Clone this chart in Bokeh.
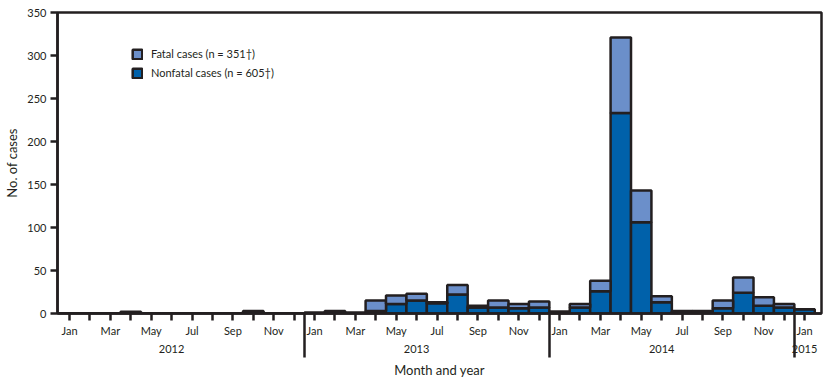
from bokeh.plotting import figure
from bokeh.models import FixedTicker, Range1d, ColumnDataSource, Legend, LegendItem
from bokeh.embed import file_html
from bokeh.resources import INLINE

# ---- data ----
month_names = ["Jan", "Feb", "Mar", "Apr", "May", "Jun",
               "Jul", "Aug", "Sep", "Oct", "Nov", "Dec"]
years = [2012] * 12 + [2013] * 12 + [2014] * 12 + [2015]
months = [month_names[i % 12] for i in range(len(years))]

nonfatal = [0, 0, 0, 0, 0, 0, 0, 0, 0, 2, 0, 0,
            1, 1, 1, 3, 11, 15, 12, 22, 7, 7, 6, 7,
            2, 7, 26, 233, 106, 13, 2, 2, 6, 24, 9, 7,
            5]
fatal = [0, 0, 0, 2, 0, 0, 0, 0, 0, 1, 0, 0,
         0, 2, 0, 12, 10, 8, 1, 11, 2, 8, 5, 7,
         0, 4, 12, 88, 37, 7, 1, 1, 9, 18, 10, 4,
         0]
y_ticks = [0, 50, 100, 150, 200, 250, 300, 350]
legend_labels = ["Fatal cases (n = 351\u2020)", "Nonfatal cases (n = 605\u2020)"]
x_title = "Month and year"
y_title = "No. of cases"

DARK = "#0061aa"
LIGHT = "#6b8fca"
INK = "#231f20"
FONT = "Lato"

x = list(range(len(years)))
src = ColumnDataSource(dict(x=x, nonfatal=nonfatal, fatal=fatal))

p = figure(width=833, height=380, output_backend="svg", toolbar_location=None,
           x_range=Range1d(-0.59, 36.83), y_range=Range1d(0, 350),
           min_border_left=57, min_border_right=12, min_border_top=12,
           min_border_bottom=67)

rs = p.vbar_stack(["nonfatal", "fatal"], x="x", width=1.0, source=src,
                  fill_color=[DARK, LIGHT], line_color=INK, line_width=2.5)

# ---- x axis: month ticks, labels every other month, year labels/separators ----
overrides = {}
for i in x:
    m = i % 12
    txt = month_names[m] if m % 2 == 0 else ""
    if m == 5:
        txt = " \n" + str(years[i])
    if i == len(x) - 1:
        txt = month_names[m] + "\n" + str(years[i])
    overrides[i] = txt
separators = [i - 0.5 for i in x if i > 0 and years[i] != years[i - 1]]

xa = p.xaxis[0]
xa.ticker = FixedTicker(ticks=x, minor_ticks=separators)
xa.major_label_overrides = overrides
xa.major_tick_in = 0
xa.major_tick_out = 7
xa.minor_tick_in = 0
xa.minor_tick_out = 44
xa.major_tick_line_width = 2.5
xa.minor_tick_line_width = 2.5
xa.major_tick_line_color = INK
xa.minor_tick_line_color = INK
xa.axis_line_width = 2.5
xa.axis_line_color = INK
xa.major_label_standoff = -34
xa.major_label_text_font = FONT
xa.major_label_text_font_size = "11px"
xa.major_label_text_color = INK
xa.major_label_text_line_height = 1.4
xa.axis_label = x_title
xa.axis_label_text_font = FONT
xa.axis_label_text_font_size = "13px"
xa.axis_label_text_font_style = "normal"
xa.axis_label_text_color = INK
xa.axis_label_standoff = 4

ya = p.yaxis[0]
ya.ticker = FixedTicker(ticks=y_ticks)
ya.major_tick_in = 0
ya.major_tick_out = 7
ya.major_tick_line_width = 2.5
ya.major_tick_line_color = INK
ya.minor_tick_line_color = None
ya.axis_line_width = 2.5
ya.axis_line_color = INK
ya.major_label_standoff = 4
ya.major_label_text_font = FONT
ya.major_label_text_font_size = "11px"
ya.major_label_text_color = INK
ya.axis_label = y_title
ya.axis_label_text_font = FONT
ya.axis_label_text_font_size = "13px"
ya.axis_label_text_font_style = "normal"
ya.axis_label_text_color = INK
ya.axis_label_standoff = 4

p.xgrid.visible = False
p.ygrid.visible = False
p.outline_line_color = INK
p.outline_line_width = 2.5
p.outline_line_alpha = 1.0

legend = Legend(items=[LegendItem(label=legend_labels[0], renderers=[rs[1]]),
                       LegendItem(label=legend_labels[1], renderers=[rs[0]])],
                location=(74, 234), orientation="vertical",
                glyph_width=12, glyph_height=12, label_height=12,
                label_standoff=8, spacing=6, padding=0, margin=0,
                border_line_alpha=0, background_fill_alpha=0,
                label_text_font=FONT, label_text_font_size="11px",
                label_text_color=INK)
p.add_layout(legend, "center")

open("out.html", "w").write(file_html(p, INLINE))
